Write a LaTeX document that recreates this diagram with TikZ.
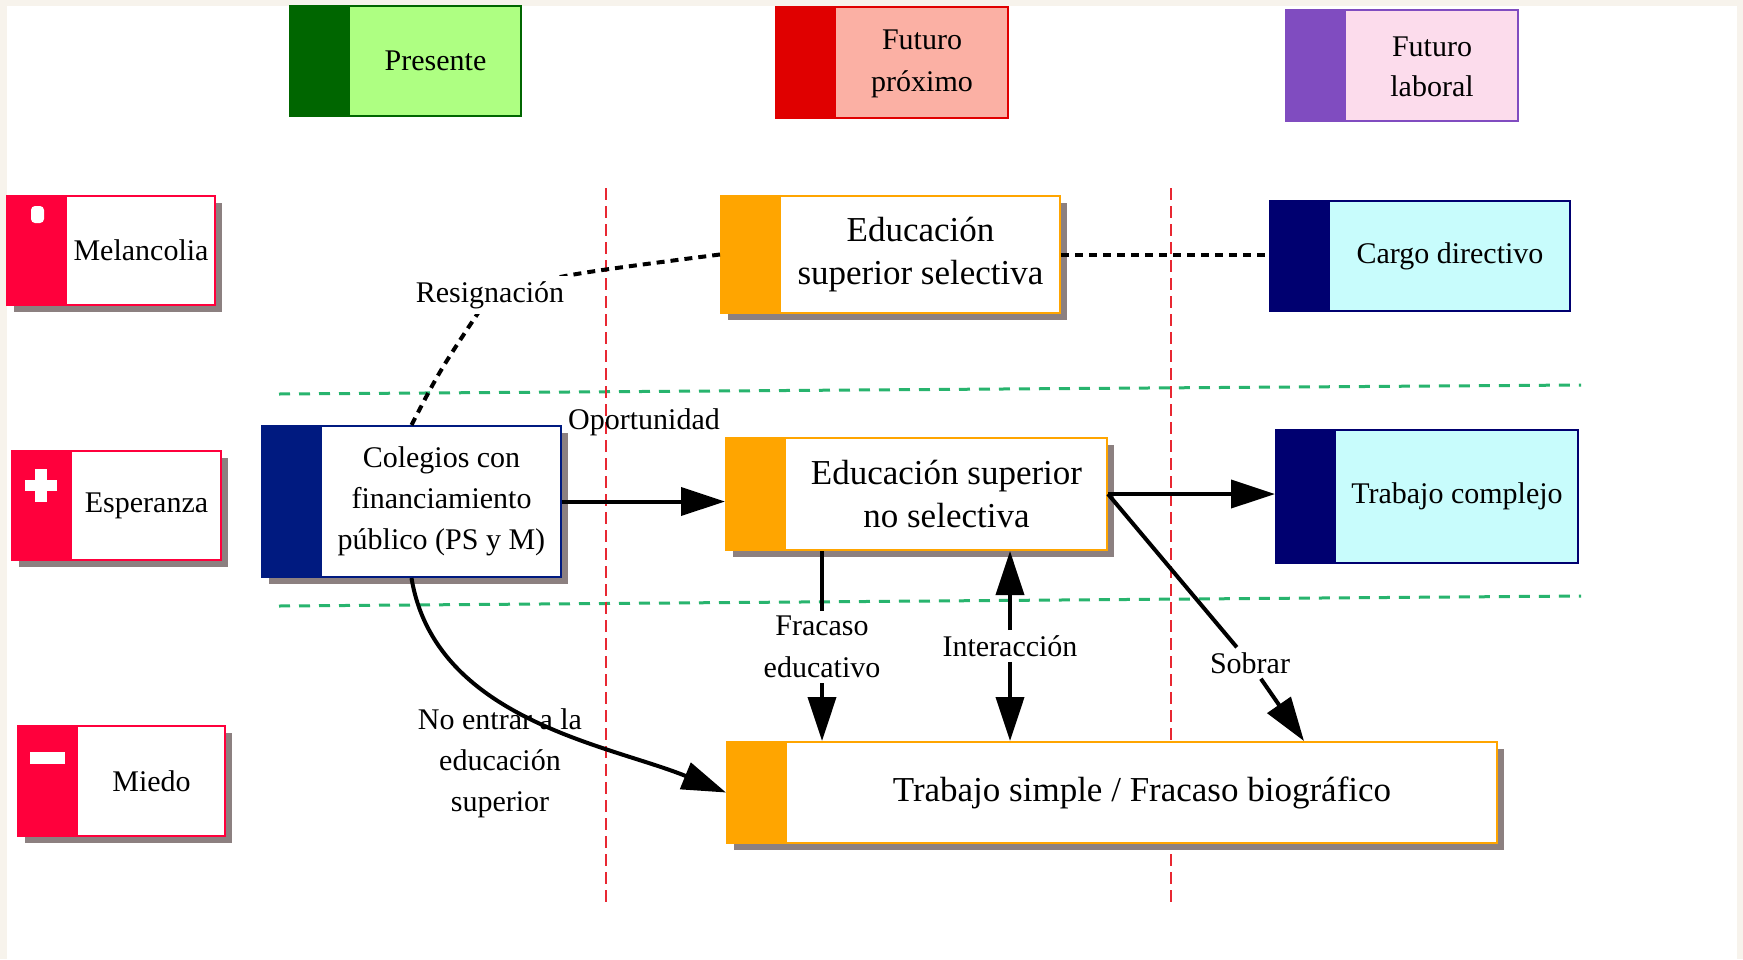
\documentclass[tikz,border=0pt]{standalone}
\usepackage{fontspec}
\setmainfont{Liberation Serif}
\usetikzlibrary{arrows.meta,shadows}
\definecolor{bgbeige}{RGB}{247,243,236}
\definecolor{pgreen}{RGB}{0,102,0}
\definecolor{pgreenl}{RGB}{174,255,130}
\definecolor{fred}{RGB}{224,0,0}
\definecolor{fredl}{RGB}{251,176,164}
\definecolor{fpurp}{RGB}{128,76,192}
\definecolor{fpurpl}{RGB}{252,220,236}
\definecolor{emored}{RGB}{255,0,60}
\definecolor{eorange}{RGB}{255,165,0}
\definecolor{enavy}{RGB}{0,0,112}
\definecolor{cnavy}{RGB}{0,26,128}
\definecolor{lcyan}{RGB}{200,252,252}
\definecolor{shadowgray}{RGB}{140,128,128}
\definecolor{dgreen}{RGB}{40,180,110}
\definecolor{dred}{RGB}{232,40,50}
\begin{document}
\begin{tikzpicture}[x=1pt,y=-1pt,
  box/.style={draw=#1, line width=2pt, rectangle, inner sep=0pt, fill=white,
    path picture={\fill[#1] (path picture bounding box.north west) rectangle ([xshift=60pt]path picture bounding box.south west);}},
  shadowed/.style={drop shadow={shadow xshift=7pt, shadow yshift=-7pt, fill=shadowgray, opacity=1}},
  txt/.style={font=\fontsize{30}{41}\selectfont, align=center, inner sep=0pt},
  bigtxt/.style={font=\fontsize{35}{43.5}\selectfont, align=center, inner sep=0pt},
  lbl/.style={font=\fontsize{30}{41}\selectfont, align=center, inner sep=5pt},
  conn/.style={line width=4pt, black},
  arr/.style={conn, -{Triangle[length=44pt, width=28pt]}},
  dotl/.style={line width=4pt, black, dash pattern=on 8pt off 6pt},
  gline/.style={line width=3pt, dgreen, dash pattern=on 11pt off 9pt},
  rline/.style={line width=2pt, dred, dash pattern=on 12pt off 6pt}]
\useasboundingbox (0,0) rectangle (1743,959);
\fill[bgbeige] (0,0) rectangle (1743,959);
\fill[white] (7,6) rectangle (1737,959);
% guide lines
\draw[gline] (279,394) -- (1581,385);
\draw[gline] (279,606) -- (1581,596);
\draw[rline] (606,188) -- (606,907);
\draw[rline] (1171,188) -- (1171,907);
% header boxes
\node[box=pgreen, fill=pgreenl, minimum width=231, minimum height=110] (pres) at (405.5,61) {};
\node[txt] (pres-t) at ([xshift=30pt]pres.center) {Presente};
\node[box=fred, fill=fredl, minimum width=232, minimum height=111] (fprox) at (892,62.5) {};
\node[txt, font=\fontsize{30}{42}\selectfont] (fprox-t) at ([xshift=30pt,yshift=-1pt]fprox.center) {Futuro\\próximo};
\node[box=fpurp, fill=fpurpl, minimum width=232, minimum height=111] (flab) at (1402,65.5) {};
\node[txt, font=\fontsize{30}{40}\selectfont] (flab-t) at ([xshift=30pt,yshift=-1pt]flab.center) {Futuro\\laboral};
% emotion boxes
\node[box=emored, shadowed, minimum width=208, minimum height=109] (mel) at (111,250.5) {};
\node[txt] (mel-t) at ([xshift=30pt]mel.center) {Melancolia};
\node[box=emored, shadowed, minimum width=209, minimum height=109] (esp) at (116.5,505.5) {};
\node[txt] (esp-t) at ([xshift=30pt]esp.center) {Esperanza};
\node[box=emored, shadowed, minimum width=207, minimum height=110] (mie) at (121.5,781) {};
\node[txt] (mie-t) at ([xshift=30pt]mie.center) {Miedo};
\fill[white, rounded corners=4pt] (31,206) rectangle (44,223);
\fill[white] (25,480) rectangle (57,491);
\fill[white] (35,469) rectangle (47,502);
\fill[white] (30,752) rectangle (65,764);
% main boxes
\node[box=cnavy, shadowed, minimum width=299, minimum height=151] (col) at (411.5,501.5) {};
\node[txt] (col-t) at ([xshift=30pt]col.center) {Colegios con\\financiamiento\\público (PS y M)};
\node[box=eorange, shadowed, minimum width=339, minimum height=117] (edsel) at (890.5,254.5) {};
\node[bigtxt] (edsel-t) at ([xshift=30pt]edsel.center) {Educación\\superior selectiva};
\node[box=eorange, shadowed, minimum width=381, minimum height=112] (ednosel) at (916.5,494) {};
\node[bigtxt] (ednosel-t) at ([xshift=30pt]ednosel.center) {Educación superior\\no selectiva};
\node[box=eorange, shadowed, minimum width=770, minimum height=101] (ts) at (1112,792.5) {};
\node[bigtxt] (ts-t) at ([xshift=30pt]ts.center) {Trabajo simple / Fracaso biográfico};
\node[box=enavy, fill=lcyan, minimum width=300, minimum height=110] (cargo) at (1420,256) {};
\node[txt] (cargo-t) at ([xshift=30pt]cargo.center) {Cargo directivo};
\node[box=enavy, fill=lcyan, minimum width=302, minimum height=133] (tc) at (1427,496.5) {};
\node[txt] (tc-t) at ([xshift=30pt]tc.center) {Trabajo complejo};
% connectors
\coordinate (resc) at (490,295);
\draw[dotl] (col.north) .. controls (440,370) .. (resc) .. controls (560,275) .. (edsel.west);
\node[lbl, fill=white] (res) at (resc) {Resignación};
\draw[dotl] (edsel.east) -- (edsel.east -| cargo.west);
\draw[arr] (col.east) -- (col.east -| ednosel.west);
\node[lbl] (opo) at (644,422) {Oportunidad};
\draw[arr] (ednosel.east) -- (ednosel.east -| tc.west);
\node[lbl] (sob) at (1250,663) {Sobrar};
\draw[conn] (ednosel.east) -- (sob);
\draw[arr] (sob) -- ([xshift=192pt]ts.north);
\node[lbl, font=\fontsize{30}{42}\selectfont] (fe) at (822,647) {Fracaso\\educativo};
\draw[conn] (fe) -- (ednosel.south -| fe);
\draw[arr] (fe) -- (ts.north -| fe);
\node[lbl] (ia) at (1010,646) {Interacción};
\draw[arr] (ia) -- (ednosel.south -| ia);
\draw[arr] (ia) -- (ts.north -| ia);
\draw[arr] (col.south) .. controls (435,720) and (610,745) .. (ts.west);
\node[lbl] (ne) at (500,763) {No entrar a la\\educación\\superior};
\end{tikzpicture}
\end{document}
